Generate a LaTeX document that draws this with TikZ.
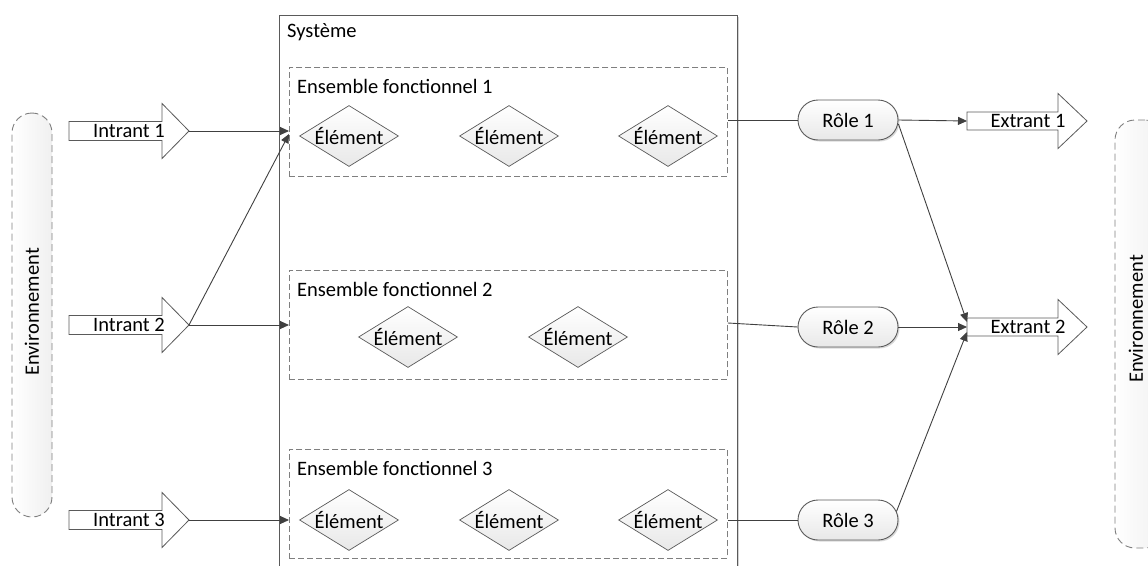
\documentclass[tikz,border=0pt]{standalone}
\usepackage{fontspec}
\setmainfont{Carlito}
\usetikzlibrary{arrows.meta,shadows,shapes.geometric}
\definecolor{linec}{HTML}{404040}
\definecolor{bordc}{HTML}{5A5A5A}
\definecolor{dashc}{HTML}{7F7F7F}
\begin{document}
\begin{tikzpicture}[x=1pt,y=-1pt,
  font=\fontsize{20.5}{24}\selectfont,
  conn/.style={draw=linec, line width=0.9pt},
  arr/.style={conn, -{Triangle[length=9pt,width=8pt]}},
  envbox/.style={draw=dashc, line width=0.9pt, dash pattern=on 7pt off 4pt,
    rounded corners=20pt, left color=white, right color=gray!12,
    minimum width=40pt, inner sep=0pt},
  sysbox/.style={draw=bordc, line width=0.9pt, fill=white, anchor=north west,
    drop shadow={shadow xshift=2pt, shadow yshift=-2pt, opacity=0.35}},
  ensbox/.style={draw=dashc, line width=0.9pt, dash pattern=on 6pt off 3pt,
    anchor=north west, minimum width=438pt, inner sep=0pt},
  elem/.style={shape=diamond, draw=bordc, line width=0.7pt, aspect=1.62,
    inner sep=0pt, minimum width=99pt, minimum height=61pt,
    top color=white, bottom color=gray!18},
  role/.style={draw=bordc, line width=0.9pt, rounded corners=20pt,
    minimum width=100pt, minimum height=40pt, inner sep=0pt,
    top color=white, bottom color=gray!18,
    drop shadow={shadow xshift=1.5pt, shadow yshift=-1.5pt, opacity=0.3}},
  blockarr/.style={draw=bordc, line width=0.8pt, fill=white},
  lbl/.style={anchor=west, inner sep=0pt}
]
\useasboundingbox (0,0) rectangle (1148,565);

% Environnement left / right
\node[envbox, minimum height=404pt] (envL) at (32,315) {};
\node[rotate=90] (envLt) at (32,312) {Environnement};
\node[envbox, minimum height=428pt, minimum width=50pt] (envR) at (1140,334) {};
\node[rotate=90, inner sep=0pt] (envRt) at (1136,319) {Environnement};

% System
\node[sysbox, minimum width=458pt, minimum height=570pt] (sys) at (279,15) {};
\node[lbl] (syst) at (287,32) {Système};

% Functional sets
\node[ensbox, minimum height=109pt] (ens1) at (289,67) {};
\node[lbl] (ens1t) at (297,86) {Ensemble fonctionnel 1};
\node[ensbox, minimum height=109pt] (ens2) at (289,270) {};
\node[lbl] (ens2t) at (297,289) {Ensemble fonctionnel 2};
\node[ensbox, minimum height=109pt] (ens3) at (289,449) {};
\node[lbl] (ens3t) at (297,468) {Ensemble fonctionnel 3};

% Elements
\node[elem] (e11) at (349,136) {Élément};
\node[elem] (e12) at (509,136) {Élément};
\node[elem] (e13) at (668,136) {Élément};
\node[elem] (e21) at (408,337) {Élément};
\node[elem] (e22) at (578,337) {Élément};
\node[elem] (e31) at (349,520) {Élément};
\node[elem] (e32) at (509,520) {Élément};
\node[elem] (e33) at (668,520) {Élément};

% Intrant block arrows
\foreach \i/\y in {1/131, 2/325, 3/520}{
  \draw[blockarr] (69,\y-9.5) -- (162,\y-9.5) -- (162,\y-27.5) -- (189,\y)
    -- (162,\y+27.5) -- (162,\y+9.5) -- (69,\y+9.5) -- cycle;
  \coordinate (in\i) at (189,\y);
}
\node (in1t) at (129,131) {Intrant 1};
\node (in2t) at (129,325) {Intrant 2};
\node (in3t) at (129,520) {Intrant 3};

% Extrant block arrows
\foreach \i/\y in {1/121, 2/327}{
  \draw[blockarr] (967,\y-9) -- (1058,\y-9) -- (1058,\y-27.5) -- (1087,\y)
    -- (1058,\y+27.5) -- (1058,\y+9) -- (967,\y+9) -- cycle;
  \coordinate (out\i) at (967,\y);
}
\node (out1t) at (1028,121) {Extrant 1};
\node (out2t) at (1028,327) {Extrant 2};

% Roles
\node[role] (r1) at (848,120) {Rôle 1};
\node[role] (r2) at (848,327) {Rôle 2};
\node[role] (r3) at (848,520) {Rôle 3};

% Connectors: inputs
\coordinate (ens1in) at (ens1.west |- in1);
\draw[arr] (in1) -- (ens1in);
\draw[arr] (in2) -- ([yshift=-3pt]ens1in);
\draw[arr] (in2) -- (ens2.west |- in2);
\draw[arr] (in3) -- (ens3.west |- in3);

% Connectors: sets to roles
\draw[conn] (ens1.east |- r1) -- (r1.west);
\draw[conn] ([yshift=4pt]ens2.east |- r2) -- (r2.west);
\draw[conn] (ens3.east |- r3) -- (r3.west);

% Connectors: roles to outputs
\draw[arr] (r1.east) -- (out1);
\draw[arr] ([yshift=-4pt]r1.east) -- ([yshift=5pt]out2);
\draw[arr] (r2.east) -- (out2);
\draw[arr] ([xshift=-2pt,yshift=-12pt]r3.north east) -- ([yshift=-5pt]out2);
\end{tikzpicture}
\end{document}
